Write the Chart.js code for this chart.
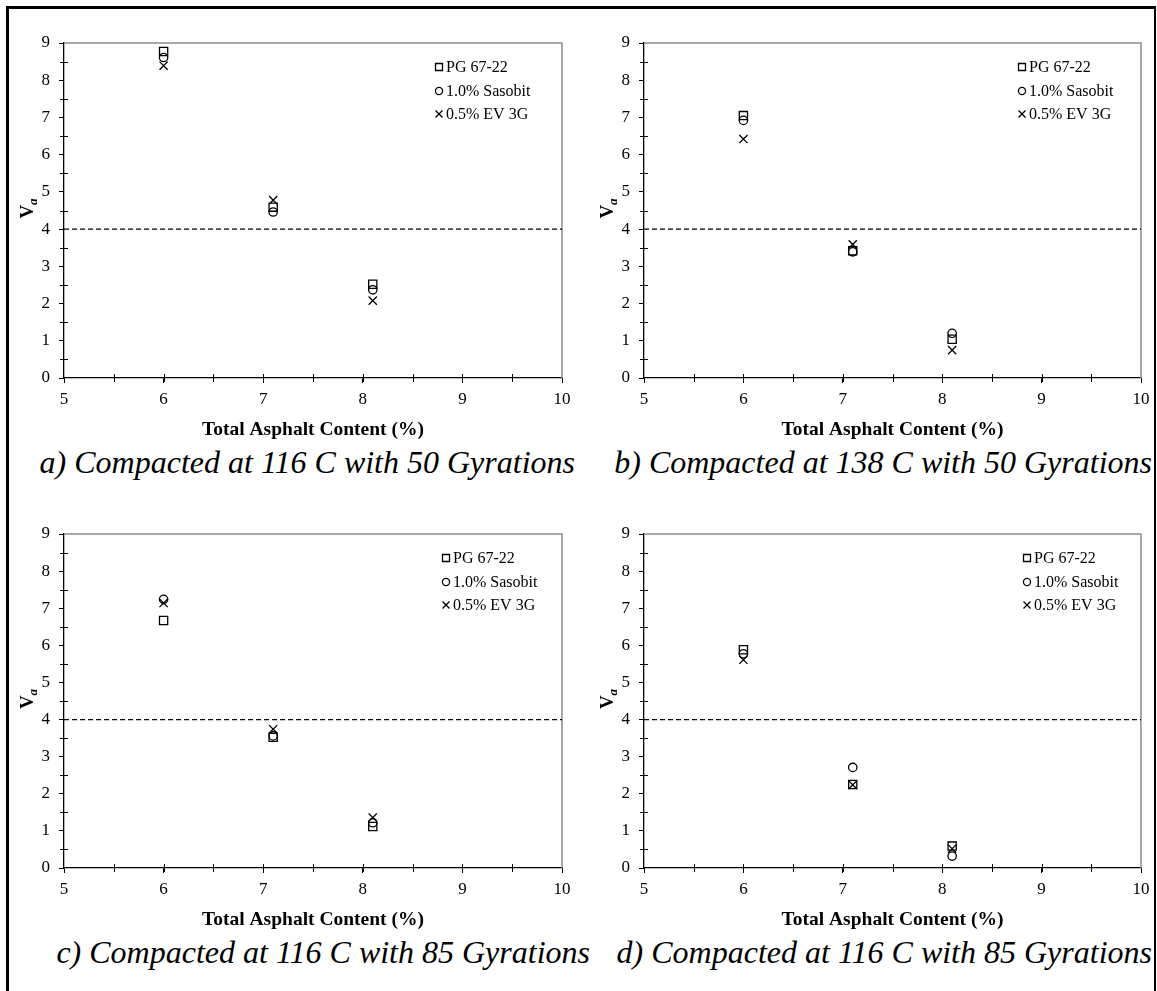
<!DOCTYPE html>
<html>
<head>
<meta charset="utf-8">
<title>Air voids vs. total asphalt content</title>
<script src="https://cdn.jsdelivr.net/npm/chart.js@4.4.1/dist/chart.umd.min.js"></script>
<style>
  html, body { margin: 0; padding: 0; background: #fff; }
  #page { position: relative; width: 1157px; height: 991px; background: #fff; overflow: hidden; }
  #frame { position: absolute; left: 6px; top: 6px; width: 1150px; height: 1000px;
           border-left: 3px solid #000; border-top: 3px solid #000; border-right: 2px solid #000;
           box-sizing: border-box; }
  .panel { position: absolute; }
  .panel canvas { display: block; }
  .caption { position: absolute; font-family: "Liberation Serif", "Times New Roman", serif;
             font-style: italic; font-size: 32px; line-height: 32px; white-space: nowrap; color: #000; }
</style>
</head>
<body>
<div id="page">
  <div id="frame"></div>
  <div class="panel" style="left:0;top:0;"><canvas id="chartA" width="580" height="442"></canvas></div>
  <div class="panel" style="left:580px;top:0;"><canvas id="chartB" width="577" height="442"></canvas></div>
  <div class="panel" style="left:0;top:490px;"><canvas id="chartC" width="580" height="442"></canvas></div>
  <div class="panel" style="left:580px;top:490px;"><canvas id="chartD" width="577" height="442"></canvas></div>
  <div class="caption" style="right:582px;top:446px;">a) Compacted at 116 C with 50 Gyrations</div>
  <div class="caption" style="right:5px;top:446px;">b) Compacted at 138 C with 50 Gyrations</div>
  <div class="caption" style="right:567px;top:936px;">c) Compacted at 116 C with 85 Gyrations</div>
  <div class="caption" style="right:5px;top:936px;">d) Compacted at 116 C with 85 Gyrations</div>
</div>
<script>
// Total asphalt content of the three mixes (%)
const asphaltContent = [6.0, 7.1, 8.1];

// Series names
const seriesNames = ['PG 67-22', '1.0% Sasobit', '0.5% EV 3G'];

// Air voids, Va (%) — a) 116 C, 50 gyrations
const pgA  = [8.77, 4.59, 2.52];
const sasA = [8.61, 4.46, 2.37];
const evA  = [8.39, 4.78, 2.08];

// b) 138 C, 50 gyrations
const pgB  = [7.05, 3.42, 1.04];
const sasB = [6.92, 3.39, 1.20];
const evB  = [6.42, 3.59, 0.75];

// c) 116 C, 85 gyrations
const pgC  = [6.67, 3.52, 1.12];
const sasC = [7.24, 3.56, 1.22];
const evC  = [7.14, 3.74, 1.36];

// d) 116 C, 85 gyrations
const pgD  = [5.88, 2.25, 0.59];
const sasD = [5.77, 2.71, 0.32];
const evD  = [5.61, 2.24, 0.52];

// Axis ranges and the 4% design air-void line
const xRange = [5, 10];
const yRange = [0, 9];
const designVoids = 4;
const minorStep = 0.5;

const FONT = '"Liberation Serif", "Times New Roman", serif';

const toPoints = (values) => asphaltContent.map((x, i) => ({ x, y: values[i] }));

// Grey frame on the top/right of the plot area plus the minor tick marks
const frameTicks = {
  id: 'frameTicks',
  beforeDatasetsDraw(chart) {
    const { ctx, chartArea: a, scales: { x, y } } = chart;
    ctx.save();
    ctx.strokeStyle = '#8c8c8c';
    ctx.lineWidth = 1.5;
    ctx.beginPath();
    ctx.moveTo(a.left, a.top);
    ctx.lineTo(a.right, a.top);
    ctx.lineTo(a.right, a.bottom);
    ctx.stroke();

    ctx.strokeStyle = '#000';
    ctx.lineWidth = 1;
    ctx.beginPath();
    for (let v = yRange[0] + minorStep; v < yRange[1]; v += 1) {
      const py = Math.round(y.getPixelForValue(v)) + 0.5;
      ctx.moveTo(a.left - 4, py);
      ctx.lineTo(a.left + 4, py);
    }
    for (let v = xRange[0] + minorStep; v < xRange[1]; v += minorStep) {
      const px = Math.round(x.getPixelForValue(v)) + 0.5;
      ctx.moveTo(px, a.bottom - 4);
      ctx.lineTo(px, a.bottom + 4);
    }
    ctx.stroke();
    ctx.restore();
  }
};

// In-plot legend (top right) and the rotated "Va" axis title
const legendAndTitle = {
  id: 'legendAndTitle',
  afterDatasetsDraw(chart, args, opts) {
    const { ctx, chartArea: a } = chart;
    ctx.save();
    const x0 = a.right - opts.offsetRight;
    seriesNames.forEach((name, i) => {
      const ds = chart.data.datasets[i + 1];
      const yy = a.top + opts.rows[i];
      ctx.strokeStyle = '#000';
      ctx.fillStyle = 'rgba(0,0,0,0)';
      ctx.lineWidth = ds.borderWidth;
      Chart.helpers.drawPoint(ctx, {
        pointStyle: ds.pointStyle, rotation: 0,
        radius: ds.pointRadius * 0.85, borderWidth: ds.borderWidth
      }, x0, yy);
      ctx.fillStyle = '#000';
      ctx.font = '16px ' + FONT;
      ctx.textAlign = 'left';
      ctx.textBaseline = 'middle';
      ctx.fillText(name, x0 + 7, yy + 1);
    });

    const cx = 27;
    const cy = (a.top + a.bottom) / 2 - 2;
    ctx.translate(cx, cy);
    ctx.rotate(-Math.PI / 2);
    ctx.fillStyle = '#000';
    ctx.textAlign = 'left';
    ctx.textBaseline = 'alphabetic';
    ctx.font = 'bold 19px ' + FONT;
    const wV = ctx.measureText('V').width;
    ctx.font = 'bold italic 13px ' + FONT;
    const wa = ctx.measureText('a').width;
    const start = -(wV + wa) / 2;
    ctx.font = 'bold 19px ' + FONT;
    ctx.fillText('V', start, 6);
    ctx.font = 'bold italic 13px ' + FONT;
    ctx.fillText('a', start + wV, 10);
    ctx.restore();
  }
};

function marker(label, values, style, radius) {
  return {
    label, data: toPoints(values), pointStyle: style, pointRadius: radius,
    pointHoverRadius: radius, borderColor: '#000', backgroundColor: 'rgba(0,0,0,0)',
    borderWidth: 1.3, showLine: false
  };
}

function buildChart(id, pg, sas, ev, geom) {
  const axisCommon = {
    type: 'linear',
    grid: { display: true, drawOnChartArea: false, drawTicks: true, tickLength: 5, color: '#000', lineWidth: 1 },
    border: { display: true, color: '#000', width: 1.3 }
  };
  return new Chart(document.getElementById(id), {
    type: 'scatter',
    data: {
      datasets: [
        {
          label: 'design', showLine: true,
          data: [{ x: xRange[0], y: designVoids }, { x: xRange[1], y: designVoids }],
          borderColor: '#000', borderWidth: 1.3, borderDash: [5, 3], pointRadius: 0, fill: false
        },
        marker(seriesNames[0], pg, 'rect', 5.8),
        marker(seriesNames[1], sas, 'circle', 4.2),
        marker(seriesNames[2], ev, 'crossRot', 5.8)
      ]
    },
    options: {
      responsive: false,
      animation: false,
      devicePixelRatio: 1,
      events: [],
      layout: { padding: { left: 0, top: geom.top, right: geom.right, bottom: 0 } },
      plugins: {
        legend: { display: false },
        tooltip: { enabled: false },
        legendAndTitle: { offsetRight: geom.legendRight, rows: [24, 48, 71] }
      },
      scales: {
        x: Object.assign({}, axisCommon, {
          min: xRange[0], max: xRange[1],
          ticks: { stepSize: 1, font: { family: FONT, size: 17 }, color: '#000', padding: 6 },
          title: {
            display: true, text: 'Total Asphalt Content (%)', color: '#000',
            font: { family: FONT, size: 19.5, weight: 'bold' }, padding: { top: 0, bottom: 0 }
          },
          afterFit(scale) { scale.height = 64; }
        }),
        y: Object.assign({}, axisCommon, {
          min: yRange[0], max: yRange[1],
          ticks: { stepSize: 1, font: { family: FONT, size: 17 }, color: '#000', padding: 9 },
          afterFit(scale) { scale.width = 64; }
        })
      }
    },
    plugins: [frameTicks, legendAndTitle]
  });
}

buildChart('chartA', pgA, sasA, evA, { top: 43, right: 18, legendRight: 123 });
buildChart('chartB', pgB, sasB, evB, { top: 43, right: 16, legendRight: 119 });
buildChart('chartC', pgC, sasC, evC, { top: 44, right: 18, legendRight: 116 });
buildChart('chartD', pgD, sasD, evD, { top: 44, right: 16, legendRight: 114 });
</script>
</body>
</html>
